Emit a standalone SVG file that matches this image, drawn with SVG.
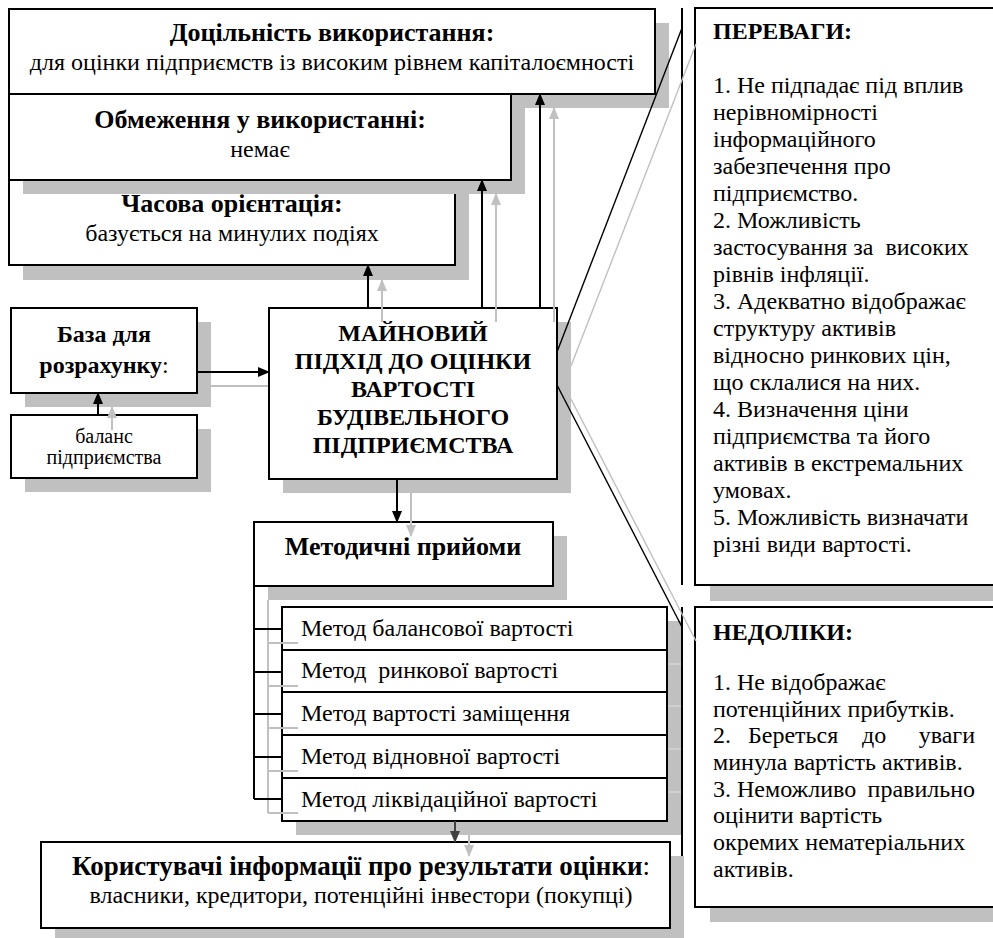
<svg xmlns="http://www.w3.org/2000/svg" width="993" height="938" viewBox="0 0 993 938">
<defs>
<style>
.box{fill:#fff;stroke:#000;stroke-width:2}
.sh{fill:#c0c0c0}
.t{font-family:"Liberation Serif","Times New Roman",serif;fill:#000;font-size:24px}
.b{font-weight:bold}
.h{font-weight:bold;font-size:26px}
.m{text-anchor:middle}
.e{text-anchor:end}
.n{font-weight:normal}
.c{stroke:#000;stroke-width:2;fill:none}
.cd{stroke:#404040;stroke-width:2;fill:none}
.cs{stroke:#c0c0c0;stroke-width:2;fill:none}
.dg{stroke:#000;stroke-width:1.4;fill:none}
.dgs{stroke:#c0c0c0;stroke-width:1.4;fill:none}
</style>
<marker id="ah" viewBox="0 0 12 10" refX="11" refY="5" markerWidth="12" markerHeight="10" markerUnits="userSpaceOnUse" orient="auto"><path d="M0,0 L12,5 L0,10 z" fill="#000"/></marker>
<marker id="ahd" viewBox="0 0 12 10" refX="11" refY="5" markerWidth="12" markerHeight="10" markerUnits="userSpaceOnUse" orient="auto"><path d="M0,0 L12,5 L0,10 z" fill="#404040"/></marker>
<marker id="ahg" viewBox="0 0 12 10" refX="11" refY="5" markerWidth="12" markerHeight="10" markerUnits="userSpaceOnUse" orient="auto"><path d="M0,0 L12,5 L0,10 z" fill="#c0c0c0"/></marker>
</defs>
<rect width="993" height="938" fill="#fff"/>

<g id="expediency">
<rect class="sh" x="23" y="23" width="646" height="85"/>
<rect class="box" x="9" y="9" width="646" height="85"/>
<text class="t h m" x="332" y="41">Доцільність використання:</text>
<text class="t m" x="332" y="70">для оцінки підприємств із високим рівнем капіталоємності</text>
</g>

<g id="time-orientation">
<rect class="sh" x="23" y="194" width="446" height="86"/>
<rect class="box" x="9" y="180" width="446" height="85"/>
<text class="t h m" x="232" y="212">Часова орієнтація:</text>
<text class="t m" x="232" y="241">базується на минулих подіях</text>
</g>

<g id="limitations">
<rect class="sh" x="23" y="108" width="502" height="86"/>
<rect class="box" x="9" y="94" width="502" height="86"/>
<text class="t h m" x="260" y="128">Обмеження у використанні:</text>
<text class="t m" x="260" y="157">немає</text>
</g>

<g id="advantages">
<rect class="sh" x="710" y="23" width="300" height="578"/>
<rect class="box" x="695" y="8" width="310" height="577"/>
<line class="c" x1="682" y1="8" x2="682" y2="585"/>
<text class="t b" x="713" y="39">ПЕРЕВАГИ:</text>
<text class="t" x="713" y="93">1. Не підпадає під вплив</text>
<text class="t" x="713" y="120">нерівномірності</text>
<text class="t" x="713" y="147">інформаційного</text>
<text class="t" x="713" y="174">забезпечення про</text>
<text class="t" x="713" y="201">підприємство.</text>
<text class="t" x="713" y="228">2. Можливість</text>
<text class="t" x="713" y="255" xml:space="preserve">застосування за  високих</text>
<text class="t" x="713" y="282">рівнів інфляції.</text>
<text class="t" x="713" y="309">3. Адекватно відображає</text>
<text class="t" x="713" y="336">структуру активів</text>
<text class="t" x="713" y="363">відносно ринкових цін,</text>
<text class="t" x="713" y="390">що склалися на них.</text>
<text class="t" x="713" y="417">4. Визначення ціни</text>
<text class="t" x="713" y="444">підприємства та його</text>
<text class="t" x="713" y="471">активів в екстремальних</text>
<text class="t" x="713" y="498">умовах.</text>
<text class="t" x="713" y="525">5. Можливість визначати</text>
<text class="t" x="713" y="552">різні види вартості.</text>
</g>

<g id="disadvantages">
<rect class="sh" x="710" y="622" width="300" height="300"/>
<rect class="box" x="695" y="607" width="310" height="300"/>
<line class="c" x1="682" y1="607" x2="682" y2="907"/>
<text class="t b" x="713" y="640">НЕДОЛІКИ:</text>
<text class="t" x="713" y="690">1. Не відображає</text>
<text class="t" x="713" y="717">потенційних прибутків.</text>
<text class="t" x="713" y="743">2.</text>
<text class="t" x="748" y="743">Береться</text>
<text class="t" x="862" y="743">до</text>
<text class="t e" x="975" y="743">уваги</text>
<text class="t" x="713" y="770">минула вартість активів.</text>
<text class="t" x="713" y="797">3. Неможливо</text>
<text class="t e" x="975" y="797">правильно</text>
<text class="t" x="713" y="823">оцінити вартість</text>
<text class="t" x="713" y="850">окремих нематеріальних</text>
<text class="t" x="713" y="877">активів.</text>
</g>

<g id="base">
<rect class="sh" x="25" y="322" width="186" height="85"/>
<rect class="box" x="11" y="308" width="186" height="85"/>
<text class="t b m" x="104" y="342">База для</text>
<text class="t b m" x="104" y="373">розрахунку<tspan class="n">:</tspan></text>
</g>

<g id="balance">
<rect class="sh" x="25" y="429" width="186" height="63"/>
<rect class="box" x="11" y="415" width="186" height="63"/>
<text class="t m" x="104" y="443" style="font-size:20px">баланс</text>
<text class="t m" x="104" y="464" style="font-size:20px">підприємства</text>
</g>

<line class="cs" x1="211" y1="386" x2="269" y2="386"/>

<g id="approach">
<rect class="sh" x="283" y="322" width="288" height="171"/>
<rect class="box" x="269" y="308" width="288" height="171"/>
<text class="t b m" x="413" y="341">МАЙНОВИЙ</text>
<text class="t b m" x="413" y="369">ПІДХІД ДО ОЦІНКИ</text>
<text class="t b m" x="413" y="397">ВАРТОСТІ</text>
<text class="t b m" x="413" y="425">БУДІВЕЛЬНОГО</text>
<text class="t b m" x="413" y="453">ПІДПРИЄМСТВА</text>
</g>

<g id="techniques">
<rect class="sh" x="268" y="536" width="299" height="64"/>
<rect class="box" x="254" y="522" width="299" height="64"/>
<text class="t h m" x="403" y="555">Методичні прийоми</text>
</g>

<g id="methods">
<rect class="sh" x="296" y="621" width="385" height="214"/>
<g stroke="#d4d4d4" stroke-width="1.5">
<line x1="667" y1="664" x2="681" y2="664"/>
<line x1="667" y1="706" x2="681" y2="706"/>
<line x1="667" y1="749" x2="681" y2="749"/>
<line x1="667" y1="792" x2="681" y2="792"/>
</g>
<rect class="box" x="282" y="607" width="385" height="43"/>
<rect class="box" x="282" y="650" width="385" height="42"/>
<rect class="box" x="282" y="692" width="385" height="43"/>
<rect class="box" x="282" y="735" width="385" height="43"/>
<rect class="box" x="282" y="778" width="385" height="43"/>
<text class="t" x="301" y="636">Метод балансової вартості</text>
<text class="t" x="301" y="678" xml:space="preserve">Метод  ринкової вартості</text>
<text class="t" x="301" y="721">Метод вартості заміщення</text>
<text class="t" x="301" y="764">Метод відновної вартості</text>
<text class="t" x="301" y="807">Метод ліквідаційної вартості</text>
</g>

<g id="users">
<rect class="sh" x="55" y="856" width="629" height="86"/>
<rect class="box" x="41" y="842" width="629" height="86"/>
<text class="t h m" x="361" y="875" style="font-size:27px">Користувачі інформації про результати оцінки<tspan class="n">:</tspan></text>
<text class="t m" x="361" y="903">власники, кредитори, потенційні інвестори (покупці)</text>
</g>

<g id="connectors">
<line class="cs" x1="382" y1="322" x2="382" y2="280" marker-end="url(#ahg)"/>
<line class="cs" x1="496" y1="322" x2="496" y2="194" marker-end="url(#ahg)"/>
<line class="cs" x1="554" y1="322" x2="554" y2="108" marker-end="url(#ahg)"/>
<line class="cs" x1="112" y1="430" x2="112" y2="407" marker-end="url(#ahg)"/>
<line class="cs" x1="411" y1="493" x2="411" y2="536" marker-end="url(#ahg)"/>
<line class="cs" x1="469" y1="835" x2="469" y2="856" marker-end="url(#ahg)"/>
<path class="cs" d="M268,600 V813 M268,643 H298 M268,686 H298 M268,728 H298 M268,771 H298 M268,813 H298"/>
<line class="dgs" x1="571" y1="366" x2="696" y2="44"/>
<line class="dgs" x1="571" y1="399" x2="696" y2="641"/>

<line class="c" x1="368" y1="308" x2="368" y2="265" marker-end="url(#ah)"/>
<line class="c" x1="482" y1="308" x2="482" y2="180" marker-end="url(#ah)"/>
<line class="c" x1="540" y1="308" x2="540" y2="94" marker-end="url(#ah)"/>
<line class="c" x1="197" y1="372" x2="269" y2="372" marker-end="url(#ah)"/>
<line class="c" x1="98" y1="415" x2="98" y2="393" marker-end="url(#ah)"/>
<line class="c" x1="397" y1="479" x2="397" y2="522" marker-end="url(#ah)"/>
<line class="cd" x1="455" y1="821" x2="455" y2="842" marker-end="url(#ahd)"/>
<path class="c" d="M254,586 V799 M254,629 H282 M254,672 H282 M254,714 H282 M254,757 H282 M254,799 H282"/>
<line class="dg" x1="557" y1="352" x2="682" y2="28"/>
<line class="dg" x1="557" y1="385" x2="682" y2="627"/>
</g>
</svg>
